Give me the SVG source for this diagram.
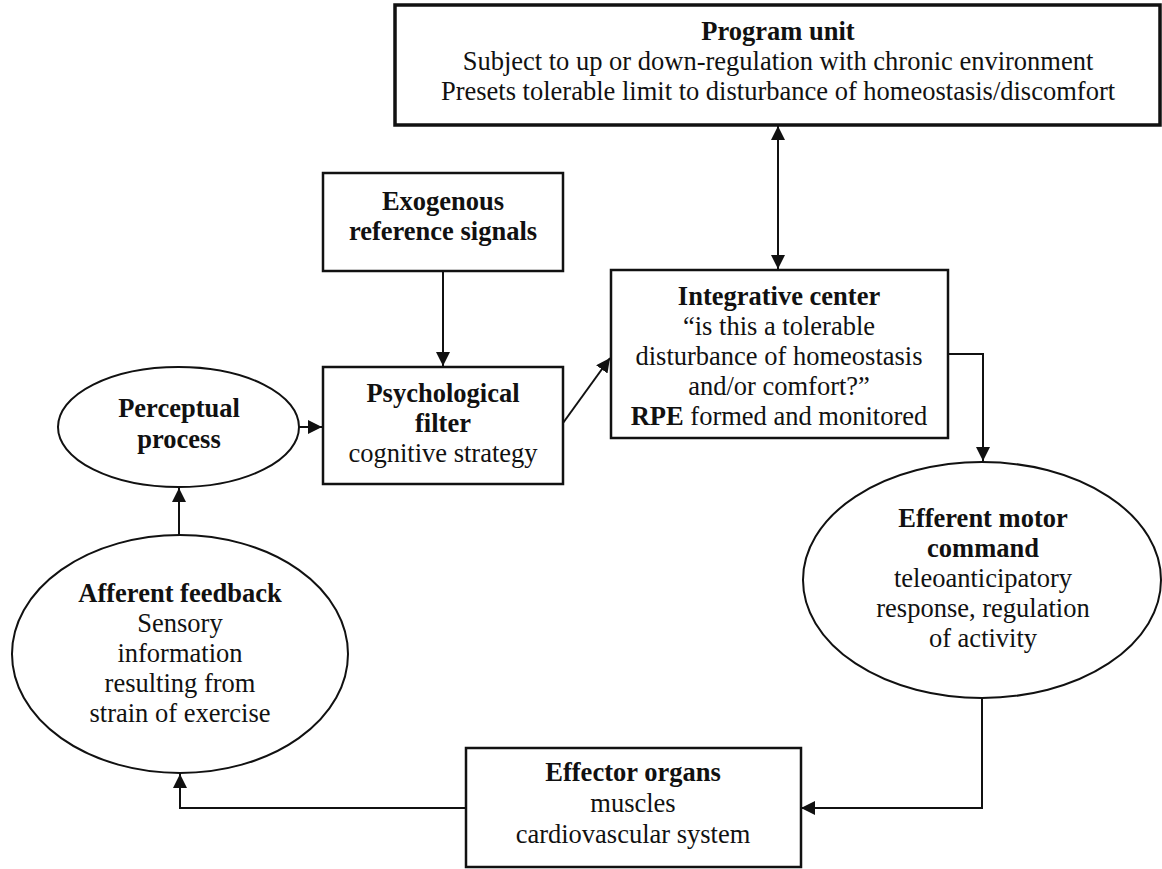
<svg xmlns="http://www.w3.org/2000/svg" width="1162" height="869" viewBox="0 0 1162 869">
<defs>
<style>
.box{fill:#fff;stroke:#111;stroke-width:2.5}
.thick{stroke-width:3.5}
.ell{fill:#fff;stroke:#111;stroke-width:2}
.con{fill:none;stroke:#111;stroke-width:2}
text{font-family:"Liberation Serif","Times New Roman",serif;font-size:26.5px;fill:#111;text-anchor:middle}
.b{font-weight:bold}
</style>
<marker id="ah" markerUnits="userSpaceOnUse" markerWidth="15" markerHeight="15" refX="14" refY="7" orient="auto-start-reverse" viewBox="0 0 15 15">
<path d="M0,0 L14,7 L0,14 z" fill="#111"/>
</marker>
</defs>
<rect width="1162" height="869" fill="#fff"/>
<g id="connectors">
<line class="con" x1="778" y1="126" x2="778" y2="269" marker-start="url(#ah)" marker-end="url(#ah)"/>
<line class="con" x1="443" y1="272" x2="443" y2="366" marker-end="url(#ah)"/>
<line class="con" x1="299" y1="427" x2="322" y2="427" marker-end="url(#ah)"/>
<line class="con" x1="563" y1="423" x2="610" y2="358" marker-end="url(#ah)"/>
<polyline class="con" points="948,354 983,354 983,461" marker-end="url(#ah)"/>
<polyline class="con" points="982,698 982,808 801,808" marker-end="url(#ah)"/>
<polyline class="con" points="466,808 180,808 180,774" marker-end="url(#ah)"/>
<line class="con" x1="179" y1="535" x2="179" y2="488" marker-end="url(#ah)"/>
</g>
<g id="program-unit">
<rect class="box thick" x="395" y="5" width="765" height="120"/>
<text x="778" y="40" class="b">Program unit</text>
<text x="778" y="70">Subject to up or down-regulation with chronic environment</text>
<text x="778" y="100">Presets tolerable limit to disturbance of homeostasis/discomfort</text>
</g>
<g id="exogenous">
<rect class="box" x="323" y="173" width="240" height="98"/>
<text x="443" y="210" class="b">Exogenous</text>
<text x="443" y="240" class="b">reference signals</text>
</g>
<g id="psychological-filter">
<rect class="box" x="323" y="367" width="240" height="117"/>
<text x="443" y="402" class="b">Psychological</text>
<text x="443" y="432" class="b">filter</text>
<text x="443" y="462">cognitive strategy</text>
</g>
<g id="integrative-center">
<rect class="box" x="611" y="270" width="337" height="168"/>
<text x="779" y="305" class="b">Integrative center</text>
<text x="779" y="335">“is this a tolerable</text>
<text x="779" y="365">disturbance of homeostasis</text>
<text x="779" y="395">and/or comfort?”</text>
<text x="779" y="425"><tspan class="b">RPE</tspan> formed and monitored</text>
</g>
<g id="perceptual-process">
<ellipse class="ell" cx="178.5" cy="427" rx="120.5" ry="60"/>
<text x="179" y="417" class="b">Perceptual</text>
<text x="179" y="448" class="b">process</text>
</g>
<g id="afferent-feedback">
<ellipse class="ell" cx="180" cy="654" rx="168" ry="119"/>
<text x="180" y="602" class="b">Afferent feedback</text>
<text x="180" y="632">Sensory</text>
<text x="180" y="662">information</text>
<text x="180" y="692">resulting from</text>
<text x="180" y="722">strain of exercise</text>
</g>
<g id="efferent-motor-command">
<ellipse class="ell" cx="982" cy="580" rx="179" ry="118"/>
<text x="983" y="527" class="b">Efferent motor</text>
<text x="983" y="557" class="b">command</text>
<text x="983" y="587">teleoanticipatory</text>
<text x="983" y="617">response, regulation</text>
<text x="983" y="647">of activity</text>
</g>
<g id="effector-organs">
<rect class="box" x="466" y="748" width="335" height="119"/>
<text x="633" y="781" class="b">Effector organs</text>
<text x="633" y="812">muscles</text>
<text x="633" y="843">cardiovascular system</text>
</g>
</svg>
